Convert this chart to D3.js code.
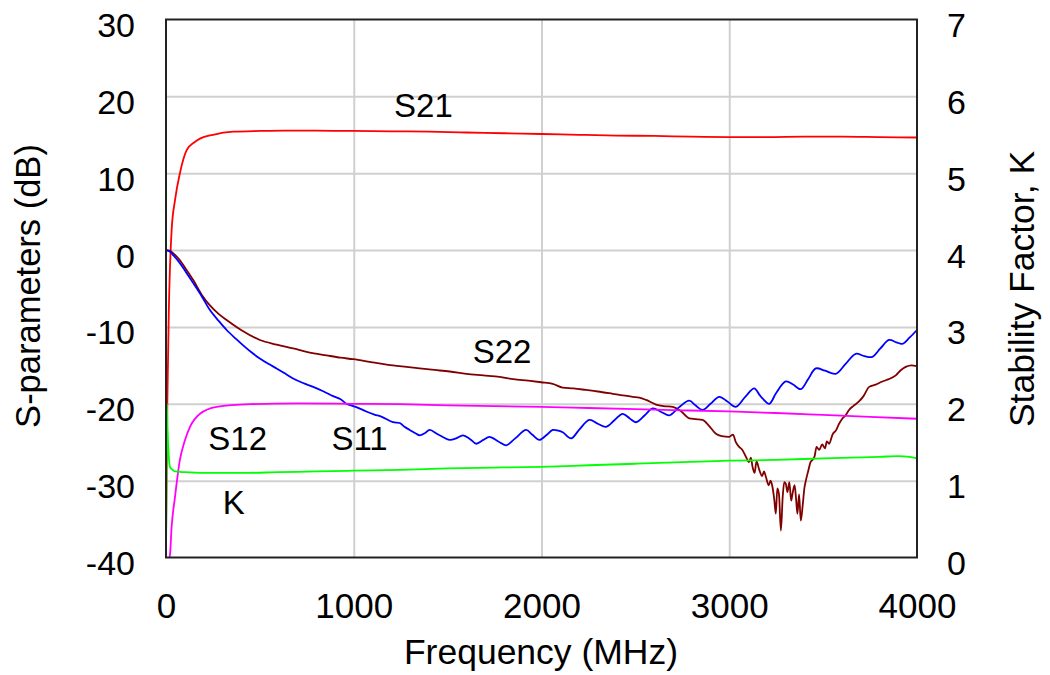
<!DOCTYPE html>
<html>
<head>
<meta charset="utf-8">
<script src="https://cdn.jsdelivr.net/npm/d3@7/dist/d3.min.js"></script>
<style>
  html, body { margin: 0; padding: 0; background: #fff; }
  svg { display: block; }
  text { font-family: "Liberation Sans", Arial, Helvetica, sans-serif; fill: #000; }
</style>
</head>
<body>
<svg id="chart" width="1050" height="675"></svg>
<script>
// ---- Data (frequency in MHz, value) ----
const xTicks = [0, 1000, 2000, 3000, 4000];
const yLeftTicks = [-40, -30, -20, -10, 0, 10, 20, 30];
const yRightTicks = [0, 1, 2, 3, 4, 5, 6, 7];

const s21 = [[0,-38],[7,-20],[15,-8],[30,2.6],[48,6.5],[74,10],[110,13],[150,14],[181,14.5],[250,15],[358,15.4],[500,15.5],[624,15.55],[800,15.55],[1000,15.5],[1200,15.45],[1400,15.4],[1600,15.3],[1800,15.2],[2000,15.1],[2200,15.0],[2400,14.9],[2600,14.85],[2800,14.75],[3000,14.7],[3200,14.7],[3400,14.75],[3600,14.75],[3800,14.7],[4000,14.65]];

const s12 = [[18,-40],[21,-39.7],[30,-36],[48,-32.1],[74,-27.3],[100,-24.8],[128,-23.0],[181,-21.3],[270,-20.4],[447,-20.05],[700,-19.95],[1000,-20.0],[1250,-20.05],[1500,-20.2],[1750,-20.3],[2000,-20.4],[2250,-20.55],[2500,-20.7],[2750,-20.85],[3000,-21.0],[3250,-21.2],[3500,-21.45],[3750,-21.7],[4000,-21.95]];

const kFactor = [[0,0],[3,1.0],[5,2.0],[8,1.7],[14,1.35],[21,1.18],[35,1.14],[48,1.12],[100,1.11],[200,1.10],[400,1.10],[600,1.11],[800,1.12],[1000,1.13],[1250,1.14],[1500,1.16],[1750,1.17],[2000,1.18],[2250,1.20],[2500,1.22],[2750,1.24],[3000,1.26],[3250,1.27],[3500,1.29],[3650,1.30],[3800,1.31],[3900,1.32],[3960,1.31],[4000,1.29]];

const s11 = [[0,0],[20,-0.2],[40,-0.7],[74,-1.7],[110,-3.0],[145,-4.3],[190,-6.0],[234,-7.8],[280,-9.2],[323,-10.4],[370,-11.5],[411,-12.4],[455,-13.3],[500,-14.1],[545,-14.8],[589,-15.4],[630,-16.0],[677,-16.7],[730,-17.3],[784,-17.8],[840,-18.4],[890,-19.0],[930,-19.4],[961,-20.0],[1010,-20.4],[1067,-21.0],[1110,-21.4],[1150,-21.7],[1209,-22.4],[1245,-22.5],[1270,-23.0],[1298,-23.4],[1333,-23.9],[1351,-24.1],[1380,-23.8],[1404,-23.4],[1450,-24.0],[1511,-24.7],[1545,-24.5],[1582,-24.1],[1620,-24.6],[1652,-25.2],[1690,-24.7],[1723,-24.3],[1770,-24.9],[1812,-25.4],[1860,-24.5],[1918,-23.4],[1950,-24.0],[1989,-24.7],[2025,-24.1],[2060,-23.4],[2090,-23.5],[2113,-23.7],[2158,-24.5],[2200,-23.4],[2255,-22.1],[2300,-22.6],[2344,-23.0],[2390,-22.1],[2432,-21.3],[2470,-21.9],[2503,-22.4],[2550,-21.5],[2592,-20.6],[2640,-21.1],[2681,-21.5],[2730,-20.5],[2787,-19.6],[2820,-20.2],[2858,-20.8],[2900,-20.0],[2947,-19.1],[2990,-19.7],[3035,-20.4],[3085,-19.1],[3133,-18.0],[3160,-18.8],[3177,-19.3],[3213,-20.0],[3250,-18.6],[3301,-17.1],[3340,-17.5],[3381,-18.1],[3420,-16.8],[3461,-15.4],[3510,-15.7],[3567,-16.1],[3620,-14.8],[3674,-13.5],[3720,-13.8],[3762,-13.9],[3805,-12.8],[3851,-11.7],[3890,-12.0],[3922,-12.2],[3960,-11.4],[4000,-10.4]];

const s22 = [[0,0],[20,-0.1],[39,-0.43],[70,-1.2],[110,-2.6],[145,-3.9],[190,-5.8],[234,-7.2],[280,-8.3],[323,-9.1],[400,-10.4],[500,-11.7],[590,-12.3],[677,-12.8],[760,-13.3],[855,-13.7],[930,-14.0],[997,-14.2],[1100,-14.6],[1209,-15.0],[1280,-15.2],[1351,-15.4],[1430,-15.6],[1511,-15.8],[1600,-16.1],[1690,-16.3],[1777,-16.5],[1850,-16.8],[1930,-17.0],[1998,-17.2],[2060,-17.4],[2113,-17.9],[2170,-18.0],[2237,-18.2],[2300,-18.4],[2379,-18.7],[2430,-18.9],[2486,-19.1],[2521,-19.2],[2557,-19.5],[2610,-20.1],[2650,-20.3],[2699,-20.4],[2740,-20.9],[2787,-21.9],[2820,-22.0],[2858,-22.1],[2890,-22.8],[2929,-23.9],[2960,-24.2],[3000,-24.3],[3020,-24.0],[3035,-25.0],[3053,-25.6],[3070,-26.0],[3089,-26.9],[3105,-27.6],[3115,-27.0],[3124,-28.2],[3135,-29.0],[3145,-27.5],[3160,-28.6],[3175,-29.4],[3185,-28.8],[3195,-29.5],[3210,-30.6],[3220,-30.0],[3230,-30.8],[3240,-32.5],[3248,-34.3],[3256,-31.0],[3265,-31.8],[3275,-36.5],[3285,-32.0],[3293,-30.2],[3301,-30.4],[3310,-31.5],[3320,-30.2],[3330,-32.6],[3337,-31.7],[3348,-30.6],[3356,-32.4],[3363,-34.3],[3372,-31.8],[3381,-35.2],[3392,-33.0],[3400,-31.0],[3408,-30.0],[3420,-28.8],[3433,-27.6],[3443,-27.3],[3455,-26.8],[3465,-25.6],[3479,-26.0],[3495,-25.3],[3510,-25.8],[3520,-24.9],[3532,-25.2],[3550,-24.0],[3570,-23.4],[3585,-22.6],[3600,-22.0],[3620,-21.5],[3638,-20.8],[3660,-20.3],[3691,-19.7],[3715,-19.0],[3745,-17.8],[3780,-17.5],[3816,-17.1],[3850,-16.8],[3887,-16.3],[3915,-15.6],[3940,-15.2],[3970,-15.0],[4000,-15.1]];

const seriesNames = ["S21", "S22", "S11", "S12", "K"];
const seriesColors = ["#ff0000", "#800000", "#0000ff", "#ff00ff", "#00ff00"];
// label anchor positions in data units (freq, dB)
const labelPos = [[1371, 17.35], [1790, -14.73], [1031, -26.0], [382, -26.0], [361, -34.34]];

// ---- Layout ----
const L = 166, R = 917, T = 19.5, B = 557.5;
const FONT = '"Liberation Sans", Arial, sans-serif';
const svg = d3.select("#chart");
svg.append("rect").attr("width", 1050).attr("height", 675).attr("fill", "#fff");

const x = d3.scaleLinear().domain([0, 4000]).range([L, R]);
const yL = d3.scaleLinear().domain([-40, 30]).range([B, T]);
const yR = d3.scaleLinear().domain([0, 7]).range([B, T]);

// gridlines
const grid = svg.append("g");
grid.append("g").attr("transform", `translate(0,${B})`)
  .call(d3.axisBottom(x).tickValues(xTicks.slice(1, -1)).tickSize(-(B - T)).tickFormat(""))
  .call(g => g.select(".domain").remove())
  .call(g => g.selectAll("line").attr("stroke", "#d0d0d0").attr("stroke-width", 2));
grid.append("g").attr("transform", `translate(${L},0)`)
  .call(d3.axisLeft(yL).tickValues(yLeftTicks.slice(1, -1)).tickSize(-(R - L)).tickFormat(""))
  .call(g => g.select(".domain").remove())
  .call(g => g.selectAll("line").attr("stroke", "#d0d0d0").attr("stroke-width", 2));

// lines
const lineL = d3.line().x(d => x(d[0])).y(d => yL(d[1])).curve(d3.curveMonotoneX);
const lineWavy = d3.line().x(d => x(d[0])).y(d => yL(d[1])).curve(d3.curveCatmullRom.alpha(0.5));
const lineR = d3.line().x(d => x(d[0])).y(d => yR(d[1])).curve(d3.curveMonotoneX);
svg.append("clipPath").attr("id", "clip").append("rect")
  .attr("x", L).attr("y", T).attr("width", R - L).attr("height", B - T);
const plot = svg.append("g").attr("clip-path", "url(#clip)");
const draw = (data, gen, color) => plot.append("path").datum(data)
  .attr("d", gen).attr("fill", "none").attr("stroke", color)
  .attr("stroke-width", 1.8).attr("stroke-linejoin", "round");
draw(s21, lineL, seriesColors[0]);
draw(s22, lineL, seriesColors[1]);
draw(s11, lineWavy, seriesColors[2]);
draw(s12, lineL, seriesColors[3]);
draw(kFactor, lineR, seriesColors[4]);

// frame
svg.append("rect").attr("x", L).attr("y", T).attr("width", R - L).attr("height", B - T)
  .attr("fill", "none").attr("stroke", "#222").attr("stroke-width", 2);

// axes labels (hyphen-minus as in the original)
const fmt = d => String(d);
const ax = svg.append("g");
ax.append("g").attr("transform", `translate(0,${B})`)
  .call(d3.axisBottom(x).tickValues(xTicks).tickSize(0).tickFormat(fmt))
  .call(g => g.select(".domain").remove())
  .call(g => g.selectAll("text").attr("y", 60).attr("dy", 0)
    .style("font-size", "35px").style("font-family", FONT).attr("fill", "#000"));
ax.append("g").attr("transform", `translate(${L},0)`)
  .call(d3.axisLeft(yL).tickValues(yLeftTicks).tickSize(0).tickFormat(fmt))
  .call(g => g.select(".domain").remove())
  .call(g => g.selectAll("text").attr("x", -31).attr("dy", "0.5em")
    .style("font-size", "34px").style("font-family", FONT).attr("fill", "#000"));
ax.append("g").attr("transform", `translate(${R},0)`)
  .call(d3.axisRight(yR).tickValues(yRightTicks).tickSize(0).tickFormat(fmt))
  .call(g => g.select(".domain").remove())
  .call(g => g.selectAll("text").attr("x", 30).attr("dy", "0.5em")
    .style("font-size", "34px").style("font-family", FONT).attr("fill", "#000"));

// titles
svg.append("text").attr("x", 541).attr("y", 664).attr("text-anchor", "middle")
  .style("font-size", "35.5px").text("Frequency (MHz)");
svg.append("text").attr("transform", "translate(40,286) rotate(-90)").attr("text-anchor", "middle")
  .style("font-size", "34.5px").text("S-parameters (dB)");
svg.append("text").attr("transform", "translate(1034,289) rotate(-90)").attr("text-anchor", "middle")
  .style("font-size", "35.5px").text("Stability Factor, K");

// curve labels
svg.append("g").selectAll("text").data(seriesNames).join("text")
  .attr("x", (d, i) => x(labelPos[i][0]))
  .attr("y", (d, i) => yL(labelPos[i][1]))
  .attr("text-anchor", "middle")
  .style("font-size", "33px")
  .text(d => d);
</script>
</body>
</html>
